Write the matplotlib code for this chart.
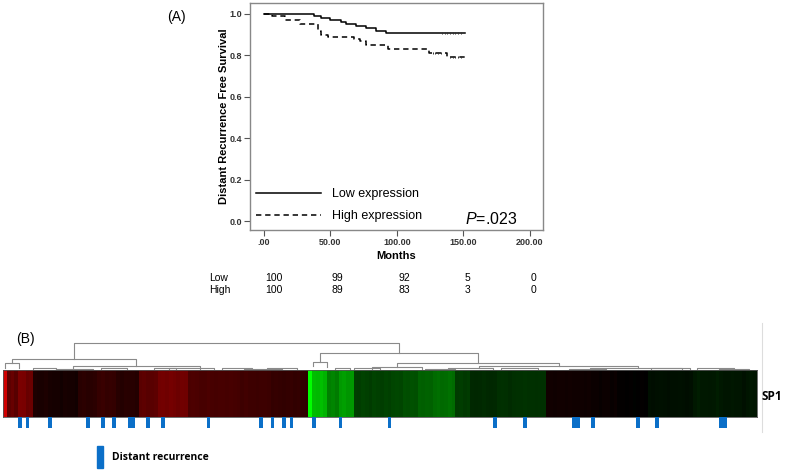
import numpy as np
import matplotlib
matplotlib.use('Agg')
import matplotlib.pyplot as plt
from matplotlib.colors import LinearSegmentedColormap
from matplotlib.patches import Rectangle
from matplotlib.lines import Line2D
from matplotlib.transforms import blended_transform_factory

plt.rcParams['font.family'] = ['Liberation Sans', 'DejaVu Sans']
plt.rcParams['mathtext.fontset'] = 'custom'
plt.rcParams['mathtext.it'] = 'Liberation Sans:italic'
plt.rcParams['mathtext.rm'] = 'Liberation Sans'

# ---- (A) Kaplan-Meier data ----
low_times = [0, 38, 43, 50, 58, 62, 69, 77, 84, 92, 151]
low_surv = [1.0, 0.99, 0.98, 0.97, 0.96, 0.95, 0.94, 0.93, 0.92, 0.91, 0.91]
high_times = [0, 6, 16, 27, 41, 43, 48, 68, 72, 77, 93, 124, 138, 151]
high_surv = [1.0, 0.99, 0.97, 0.95, 0.92, 0.90, 0.89, 0.88, 0.87, 0.85, 0.83, 0.81, 0.79, 0.79]
low_censor = [134, 136, 138, 140, 142, 144, 146, 148]
high_censor = [127, 129, 131, 133, 140, 142, 144, 146, 148]

month_ticks = [0, 50, 100, 150, 200]
month_labels = ['.00', '50.00', '100.00', '150.00', '200.00']
surv_ticks = [0.0, 0.2, 0.4, 0.6, 0.8, 1.0]
risk_low = [100, 99, 92, 5, 0]
risk_high = [100, 89, 83, 3, 0]

# ---- (B) SP1 heatmap data (200 samples, clustered order) ----
sp1_expr = [
    0.82, 0.36, 0.40, 0.34, 0.48, 0.47, 0.40, 0.42, 0.11, 0.10,
    0.10, 0.11, 0.09, 0.08, 0.08, 0.07, 0.09, 0.08, 0.08, 0.07,
    0.16, 0.17, 0.15, 0.16, 0.17, 0.21, 0.22, 0.20, 0.21, 0.20,
    0.15, 0.14, 0.16, 0.15, 0.15, 0.14, 0.35, 0.36, 0.34, 0.35,
    0.36, 0.44, 0.45, 0.43, 0.46, 0.44, 0.42, 0.44, 0.43, 0.29,
    0.30, 0.29, 0.28, 0.28, 0.29, 0.28, 0.27, 0.28, 0.28, 0.27,
    0.28, 0.27, 0.26, 0.24, 0.25, 0.24, 0.24, 0.23, 0.24, 0.24,
    0.23, 0.20, 0.21, 0.20, 0.19, 0.20, 0.21, 0.19, 0.20, 0.19,
    0.18, -1.00, -0.74, -0.72, -0.75, -0.70, -0.50, -0.52, -0.48, -0.60,
    -0.62, -0.58, -0.60, -0.25, -0.24, -0.26, -0.25, -0.23, -0.26, -0.25,
    -0.24, -0.26, -0.25, -0.27, -0.28, -0.27, -0.31, -0.30, -0.32, -0.31,
    -0.38, -0.37, -0.39, -0.38, -0.42, -0.43, -0.41, -0.42, -0.44, -0.42,
    -0.23, -0.24, -0.22, -0.23, -0.16, -0.15, -0.16, -0.17, -0.16, -0.15,
    -0.16, -0.18, -0.19, -0.18, -0.17, -0.18, -0.19, -0.19, -0.20, -0.19,
    -0.19, -0.18, -0.19, -0.19, 0.07, 0.07, 0.06, 0.07, 0.07, 0.06,
    0.07, 0.06, 0.06, 0.06, 0.05, 0.06, 0.04, 0.04, 0.03, 0.04,
    0.04, 0.03, 0.04, 0.01, 0.01, 0.00, 0.01, -0.01, 0.00, 0.01,
    0.00, -0.06, -0.05, -0.06, -0.07, -0.06, -0.05, -0.06, -0.06, -0.07,
    -0.06, -0.05, -0.06, -0.10, -0.11, -0.10, -0.10, -0.09, -0.10, -0.11,
    -0.10, -0.08, -0.08, -0.09, -0.08, -0.08, -0.07, -0.08, -0.09, -0.08,
]
recurrence_idx = [4, 6, 12, 22, 26, 29, 33, 34, 38, 42, 54, 68, 71, 74, 76, 82,
                  89, 102, 130, 138, 151, 152, 156, 168, 173, 190, 191]

# dendrogram links: left pos, right pos, merge height, left child h, right child h
dend_left = [18.8, 2.4, 0.5, 18.6, 84.1, 82.2, 104.5, 97.9, 126.3, 155.7,
             8, 14, 26, 40, 44, 58, 64, 70, 88, 93, 112, 118, 132, 150, 172, 184, 190]
dend_right = [105.0, 35.3, 4.2, 52.3, 126.0, 86.0, 147.5, 111.1, 168.4, 182.2,
              14, 24, 33, 46, 56, 66, 74, 78, 92, 100, 120, 130, 142, 160, 180, 194, 198]
dend_height = [10.0, 4.1, 2.6, 1.5, 6.3, 3.0, 2.6, 1.1, 1.5, 0.8,
               0.6, 0.5, 0.7, 0.6, 0.8, 0.6, 0.5, 0.7, 0.9, 0.6, 0.5, 0.7, 0.6, 0.5, 0.6, 0.7, 0.5]
dend_hl = [4.1, 2.6, 0.6, 0.5, 3.0, 1.4, 1.1, 0.5, 0.7, 0.4] + [0.0] * 17
dend_hr = [6.3, 1.5, 0.6, 0.5, 2.6, 1.0, 1.5, 0.5, 0.8, 0.4] + [0.0] * 17

W, H = 787, 472
fig = plt.figure(figsize=(W / 100, H / 100), dpi=100)


def px_box(x0, y0, x1, y1):
    return [x0 / W, 1 - y1 / H, (x1 - x0) / W, (y1 - y0) / H]


# ---- (A) ----
ax = fig.add_axes(px_box(250, 3, 543, 230))
ax.step(low_times, low_surv, where='post', color='black', lw=1.1, label='Low expression')
ax.step(high_times, high_surv, where='post', color='black', lw=1.1, dashes=(3.5, 2.5),
        label='High expression')
ax.plot(low_censor, np.interp(low_censor, low_times, low_surv), ls='none', marker='|',
        ms=2, color='#333333', mew=0.7)
ax.plot(high_censor, [high_surv[np.searchsorted(high_times, c, side='right') - 1] for c in high_censor],
        ls='none', marker='|', ms=2, color='#333333', mew=0.7)
ax.set_xlim(-10.5, 210)
ax.set_ylim(-0.043, 1.053)
ax.set_xticks(month_ticks)
ax.set_xticklabels(month_labels)
ax.set_yticks(surv_ticks)
ax.set_yticklabels(['%.1f' % t for t in surv_ticks])
for lab in ax.get_xticklabels() + ax.get_yticklabels():
    lab.set_fontweight('bold')
    lab.set_fontsize(6.5)
    lab.set_color('#333333')
ax.tick_params(direction='out', length=4, width=0.8, color='#555555', pad=1.5)
for s in ax.spines.values():
    s.set_color('#888888')
    s.set_linewidth(1.0)
ax.set_xlabel('Months', fontsize=8, fontweight='bold', labelpad=3)
ax.set_ylabel('Distant Recurrence Free Survival', fontsize=8, fontweight='bold', labelpad=0.5)
ax.legend(loc='lower left', bbox_to_anchor=(0.02, 0.035), frameon=False, fontsize=9,
          handlelength=5.2, handletextpad=0.9, labelspacing=0.78, borderaxespad=0, borderpad=0)
ax.text(151, 0.012, r'$\it{P}$=.023', fontsize=11.5, ha='left', va='center')

tr = blended_transform_factory(ax.transData, fig.transFigure)
ax.text(-41.5, 1 - 278 / H, 'Low', transform=tr, fontsize=7.5, va='center', ha='left')
ax.text(-41.5, 1 - 290 / H, 'High', transform=tr, fontsize=7.5, va='center', ha='left')
for t, nl, nh in zip(month_ticks, risk_low, risk_high):
    ax.text(t + 1, 1 - 278 / H, str(nl), transform=tr, fontsize=7.5, va='center', ha='left')
    ax.text(t + 1, 1 - 290 / H, str(nh), transform=tr, fontsize=7.5, va='center', ha='left')

fig.text(176 / W, 1 - 17 / H, '(A)', fontsize=10, ha='center', va='center')

# ---- (B) ----
fig.text(25 / W, 1 - 339 / H, '(B)', fontsize=10, ha='center', va='center')

n = len(sp1_expr)
cmap = LinearSegmentedColormap.from_list('grk', ['#00ff00', '#000000', '#ff0000'])
axh = fig.add_axes(px_box(3, 370, 757, 417))
axh.imshow(np.array(sp1_expr)[None, :], cmap=cmap, vmin=-1, vmax=1, aspect='auto',
           extent=(0, n, 0, 1), interpolation='nearest')
axh.set_xticks([])
axh.set_yticks([])
for s in axh.spines.values():
    s.set_color('#555555')
    s.set_linewidth(0.6)

axd = fig.add_axes(px_box(3, 340, 757, 370))
for xl, xr, h, hl, hr in zip(dend_left, dend_right, dend_height, dend_hl, dend_hr):
    axd.plot([xl, xl, xr, xr], [hl, h, h, hr], color='#8a8a8a', lw=0.8)
axd.set_xlim(0, n)
axd.set_ylim(0, 11.1)
axd.axis('off')

axm = fig.add_axes(px_box(3, 417, 757, 428))
axm.bar(np.array(recurrence_idx) + 0.5, 1, width=0.95, color='#0b6fc8')
axm.set_xlim(0, n)
axm.set_ylim(0, 1)
axm.axis('off')

fig.text(761 / W, 1 - 397 / H, 'SP1', fontsize=8.5, fontweight='bold', family='Open Sans',
         ha='left', va='center')
fig.add_artist(Line2D([762 / W, 762 / W], [1 - 323 / H, 1 - 432 / H], color='#dddddd', lw=0.8))

fig.add_artist(Rectangle((97 / W, 1 - 468 / H), 6 / W, 22 / H, color='#0b6fc8',
                         transform=fig.transFigure))
fig.text(112 / W, 1 - 457 / H, 'Distant recurrence', fontsize=7.5, fontweight='bold',
         family='Open Sans', ha='left', va='center')

fig.savefig('out.png', dpi=100)
